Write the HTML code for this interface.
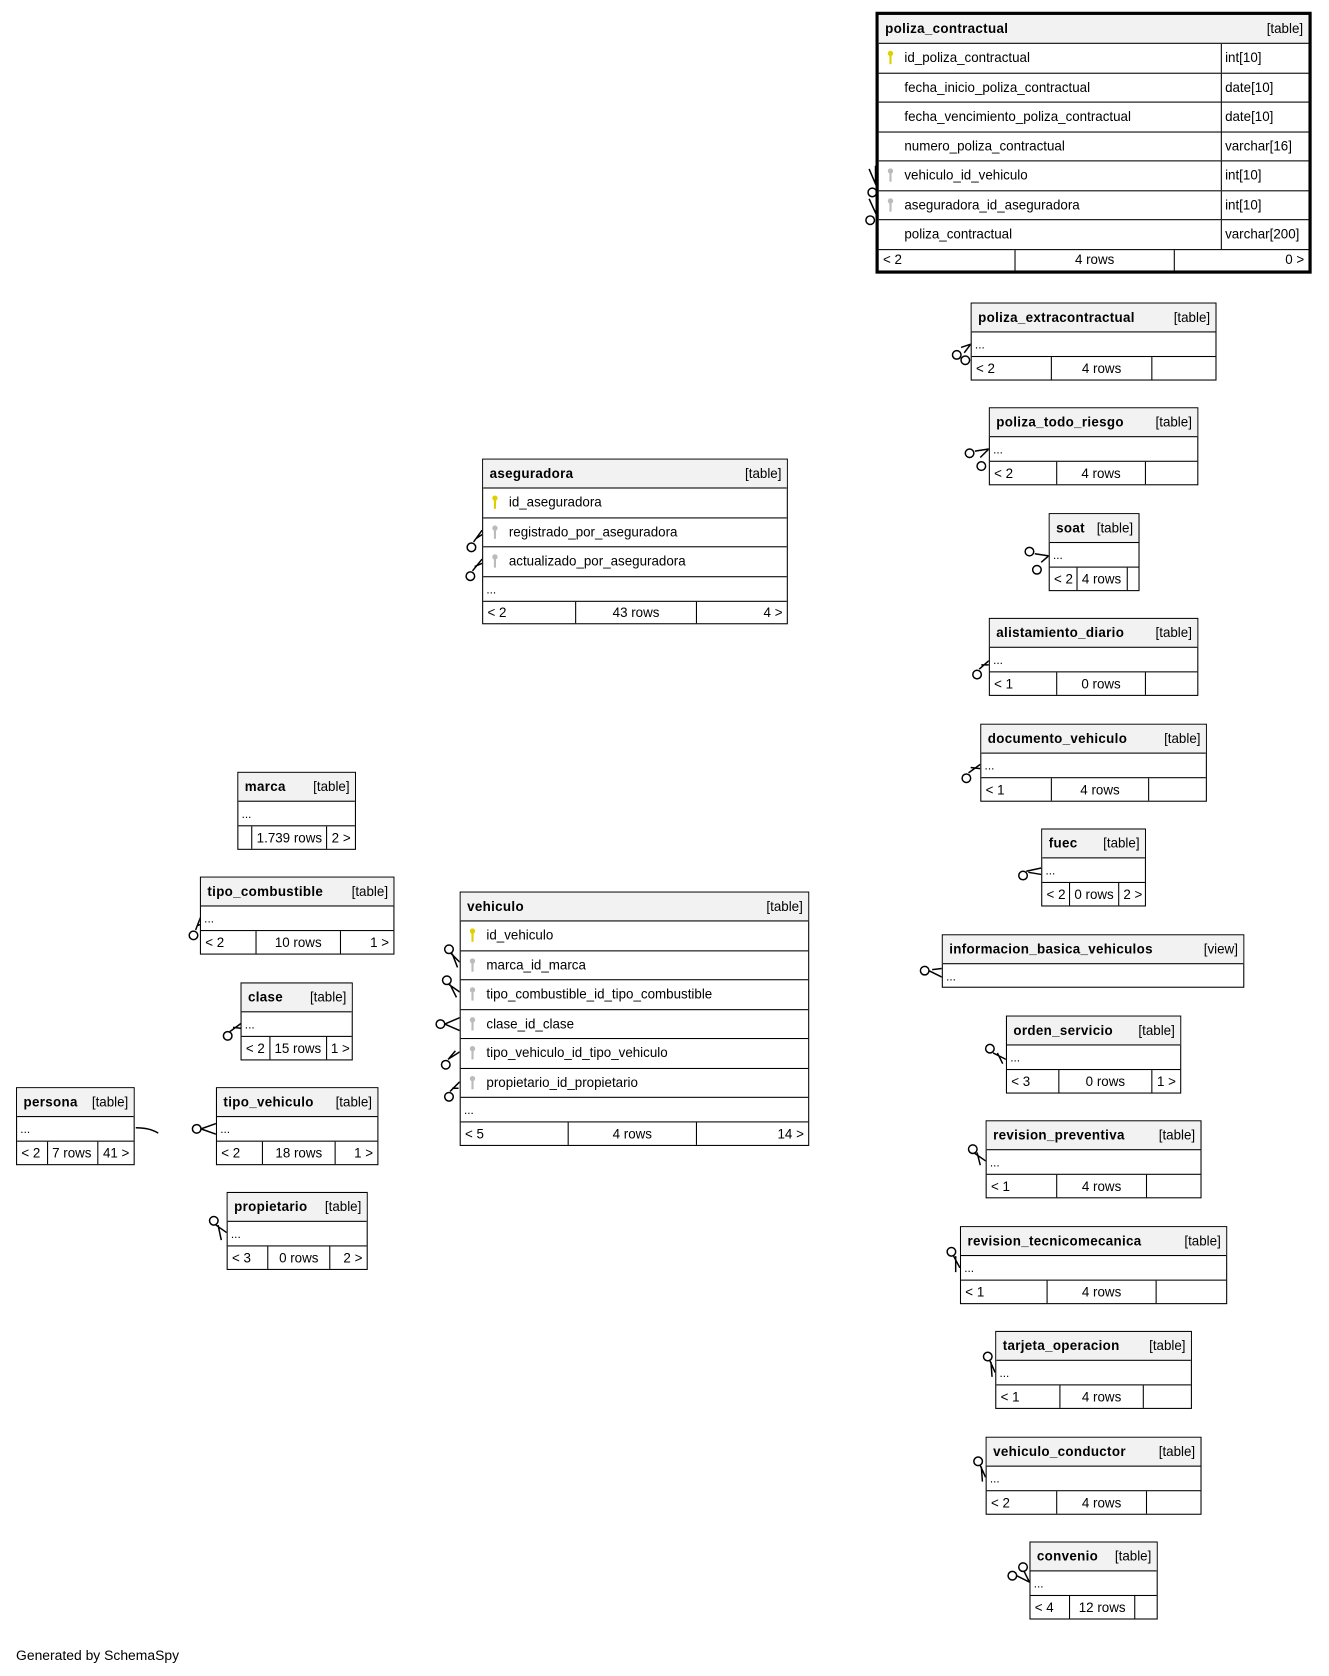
<!DOCTYPE html>
<html><head><meta charset="utf-8"><style>
html,body{margin:0;padding:0;background:#fff;width:1329px;height:1676px;overflow:hidden}
#w{position:absolute;left:0;top:0;width:1240px;height:1564px;transform:scale(1.069);transform-origin:0 0}
*{box-sizing:border-box}
.t{position:absolute;border:1px solid #000;background:#fff;font:12.5px "Liberation Sans",sans-serif;color:#000;display:flex;flex-direction:column}
.h{height:27px;flex:none;background:#f2f2f2;border-bottom:1px solid #000;display:flex;justify-content:space-between;align-items:center;padding:0 5px 0 6px;white-space:nowrap}
.h b{font-weight:bold;letter-spacing:.3px}
.r{height:27.5px;flex:none;border-bottom:1.5px solid #000;display:flex;align-items:center;white-space:nowrap}
.r .n{flex:1;padding-left:24px;position:relative;height:100%;display:flex;align-items:center}
.r .ty{width:82px;border-left:1.5px solid #000;height:100%;display:flex;align-items:center;padding-left:3px}
.d{height:23px;flex:none;border-bottom:1.5px solid #000;padding:6px 0 0 3px;font-size:11px}
.f{flex:1;display:flex;font-size:12.5px}
.f div{display:flex;align-items:center;padding:0 4px;border-left:1px solid #000;white-space:nowrap}
.f div:first-child{border-left:none}
.k{position:absolute;left:8px;top:6px;width:6px;height:14px}
svg.c{position:absolute;left:0;top:0}
</style></head><body><div id="w">

<svg class="c" width="1240" height="1564">
<g fill="none" stroke="#000" stroke-width="1.4">
<circle cx="816" cy="180" r="4"/><circle cx="814" cy="206" r="4"/>
<path d="M813 158 L819 172 L823 158 M819 172 V155"/><path d="M813 186 L819 199 L823 186"/>
<circle cx="895" cy="332" r="4"/><circle cx="903" cy="337" r="4"/><path d="M899 325 L908 322 L902 330"/>
<circle cx="907" cy="424" r="4"/><circle cx="918" cy="436" r="4"/><path d="M912 422 L925 420 L917 428"/>
<circle cx="963" cy="516" r="4"/><circle cx="970" cy="533" r="4"/><path d="M968 518 L981 520 L974 526"/>
<circle cx="914" cy="631" r="4"/><path d="M916 626 L925 618 M918 622 L925 622"/>
<circle cx="904" cy="728" r="4"/><path d="M906 723 L917 715 M908 718 L917 719"/>
<circle cx="957" cy="819" r="4"/><path d="M960 815 L974 812 M962 816 L974 818"/>
<circle cx="865" cy="908" r="4"/><path d="M869 908 L881 914 M872 907 L881 906"/>
<circle cx="926" cy="981" r="4"/><path d="M929 985 L941 991 M933 985 L938 995"/>
<circle cx="910" cy="1075" r="4"/><path d="M912 1079 L922 1086 M914 1078 L917 1090"/>
<circle cx="890" cy="1171" r="4"/><path d="M892 1175 L898 1186 M894 1175 L894 1190"/>
<circle cx="924" cy="1269" r="4"/><path d="M926 1273 L931 1284 M927 1274 L928 1288"/>
<circle cx="915" cy="1367" r="4"/><path d="M917 1371 L922 1382 M918 1372 L919 1386"/>
<circle cx="947" cy="1474" r="4"/><circle cx="957" cy="1466" r="4"/><path d="M951 1474 L963 1480 L958 1470"/>
<circle cx="441" cy="512" r="4"/><path d="M443 507 L451 496 M445 504 L451 500"/>
<circle cx="440" cy="539" r="4"/><path d="M442 534 L451 523 M444 530 L451 527"/>
<circle cx="181" cy="875" r="4"/><path d="M183 870 L188 857 M184 866 L190 864"/>
<circle cx="213" cy="969" r="4"/><path d="M215 965 L226 957 M218 961 L226 962"/>
<circle cx="184" cy="1056" r="4"/><path d="M188 1056 L202 1051 M188 1056 L202 1061"/>
<circle cx="200" cy="1142" r="4"/><path d="M202 1146 L212 1153 M204 1146 L207 1160"/>
<circle cx="420" cy="888" r="4"/><path d="M422 892 L430 900 M423 892 L428 905"/>
<circle cx="418" cy="917" r="4"/><path d="M420 921 L430 928 M421 921 L427 933"/>
<circle cx="412" cy="958" r="4"/><path d="M416 958 L430 952 M416 958 L430 964"/>
<circle cx="417" cy="996" r="4"/><path d="M419 991 L430 984 M420 990 L426 983"/>
<circle cx="420" cy="1026" r="4"/><path d="M421 1021 L430 1012 M423 1018 L429 1018"/>
<path d="M127 1055 Q140 1055 148 1060"/>
</g></svg>

<div class="t" style="left:819px;top:11px;width:408px;height:245px;border-width:3px">
<div class="h"><b>poliza_contractual</b><span>[table]</span></div>
<div class="r"><div class="n"><svg class="k" viewBox="0 0 6 14"><circle cx="3" cy="3" r="2.5" fill="#e0d000"/><rect x="2" y="4" width="2" height="9" fill="#e0d000"/></svg>id_poliza_contractual</div><div class="ty">int[10]</div></div>
<div class="r"><div class="n">fecha_inicio_poliza_contractual</div><div class="ty">date[10]</div></div>
<div class="r"><div class="n">fecha_vencimiento_poliza_contractual</div><div class="ty">date[10]</div></div>
<div class="r"><div class="n">numero_poliza_contractual</div><div class="ty">varchar[16]</div></div>
<div class="r"><div class="n"><svg class="k" viewBox="0 0 6 14"><circle cx="3" cy="3" r="2.5" fill="#bbb"/><rect x="2" y="4" width="2" height="9" fill="#bbb"/></svg>vehiculo_id_vehiculo</div><div class="ty">int[10]</div></div>
<div class="r"><div class="n"><svg class="k" viewBox="0 0 6 14"><circle cx="3" cy="3" r="2.5" fill="#bbb"/><rect x="2" y="4" width="2" height="9" fill="#bbb"/></svg>aseguradora_id_aseguradora</div><div class="ty">int[10]</div></div>
<div class="r"><div class="n">poliza_contractual</div><div class="ty">varchar[200]</div></div>
<div class="f"><div style="width:127px">&lt; 2</div><div style="width:149px;justify-content:center">4 rows</div><div style="flex:1;justify-content:flex-end">0 &gt;</div></div>
</div>

<div class="t" style="left:908px;top:283px;width:230px;height:73px"><div class="h"><b>poliza_extracontractual</b><span>[table]</span></div><div class="d">...</div><div class="f"><div style="width:74px">&lt; 2</div><div style="width:94px;justify-content:center">4 rows</div><div style="flex:1"></div></div></div>
<div class="t" style="left:925px;top:381px;width:196px;height:73px"><div class="h"><b>poliza_todo_riesgo</b><span>[table]</span></div><div class="d">...</div><div class="f"><div style="width:62px">&lt; 2</div><div style="width:83px;justify-content:center">4 rows</div><div style="flex:1"></div></div></div>
<div class="t" style="left:981px;top:480px;width:85px;height:73px"><div class="h"><b>soat</b><span>[table]</span></div><div class="d">...</div><div class="f"><div style="width:25px">&lt; 2</div><div style="width:47px">4 rows</div><div style="flex:1"></div></div></div>
<div class="t" style="left:925px;top:578px;width:196px;height:73px"><div class="h"><b>alistamiento_diario</b><span>[table]</span></div><div class="d">...</div><div class="f"><div style="width:62px">&lt; 1</div><div style="width:83px;justify-content:center">0 rows</div><div style="flex:1"></div></div></div>
<div class="t" style="left:917px;top:677px;width:212px;height:73px"><div class="h"><b>documento_vehiculo</b><span>[table]</span></div><div class="d">...</div><div class="f"><div style="width:65px">&lt; 1</div><div style="width:91px;justify-content:center">4 rows</div><div style="flex:1"></div></div></div>
<div class="t" style="left:974px;top:775px;width:98px;height:73px"><div class="h"><b>fuec</b><span>[table]</span></div><div class="d">...</div><div class="f"><div style="width:25px">&lt; 2</div><div style="width:48px">0 rows</div><div style="flex:1">2 &gt;</div></div></div>
<div class="t" style="left:881px;top:874px;width:283px;height:50px"><div class="h"><b>informacion_basica_vehiculos</b><span>[view]</span></div><div class="d" style="border:none">...</div></div>
<div class="t" style="left:941px;top:950px;width:164px;height:73px"><div class="h"><b>orden_servicio</b><span>[table]</span></div><div class="d">...</div><div class="f"><div style="width:48px">&lt; 3</div><div style="width:88px;justify-content:center">0 rows</div><div style="flex:1;justify-content:flex-end">1 &gt;</div></div></div>
<div class="t" style="left:922px;top:1048px;width:202px;height:73px"><div class="h"><b>revision_preventiva</b><span>[table]</span></div><div class="d">...</div><div class="f"><div style="width:65px">&lt; 1</div><div style="width:84px;justify-content:center">4 rows</div><div style="flex:1"></div></div></div>
<div class="t" style="left:898px;top:1147px;width:250px;height:73px"><div class="h"><b>revision_tecnicomecanica</b><span>[table]</span></div><div class="d">...</div><div class="f"><div style="width:80px">&lt; 1</div><div style="width:102px;justify-content:center">4 rows</div><div style="flex:1"></div></div></div>
<div class="t" style="left:931px;top:1245px;width:184px;height:73px"><div class="h"><b>tarjeta_operacion</b><span>[table]</span></div><div class="d">...</div><div class="f"><div style="width:59px">&lt; 1</div><div style="width:78px;justify-content:center">4 rows</div><div style="flex:1"></div></div></div>
<div class="t" style="left:922px;top:1344px;width:202px;height:73px"><div class="h"><b>vehiculo_conductor</b><span>[table]</span></div><div class="d">...</div><div class="f"><div style="width:65px">&lt; 2</div><div style="width:84px;justify-content:center">4 rows</div><div style="flex:1"></div></div></div>
<div class="t" style="left:963px;top:1442px;width:120px;height:73px"><div class="h"><b>convenio</b><span>[table]</span></div><div class="d">...</div><div class="f"><div style="width:36px">&lt; 4</div><div style="width:61px;justify-content:center">12 rows</div><div style="flex:1"></div></div></div>

<div class="t" style="left:451px;top:429px;width:286px;height:155px">
<div class="h"><b>aseguradora</b><span>[table]</span></div>
<div class="r"><div class="n"><svg class="k" viewBox="0 0 6 14"><circle cx="3" cy="3" r="2.5" fill="#e0d000"/><rect x="2" y="4" width="2" height="9" fill="#e0d000"/></svg>id_aseguradora</div></div>
<div class="r"><div class="n"><svg class="k" viewBox="0 0 6 14"><circle cx="3" cy="3" r="2.5" fill="#bbb"/><rect x="2" y="4" width="2" height="9" fill="#bbb"/></svg>registrado_por_aseguradora</div></div>
<div class="r"><div class="n"><svg class="k" viewBox="0 0 6 14"><circle cx="3" cy="3" r="2.5" fill="#bbb"/><rect x="2" y="4" width="2" height="9" fill="#bbb"/></svg>actualizado_por_aseguradora</div></div>
<div class="d">...</div>
<div class="f"><div style="width:86px">&lt; 2</div><div style="width:113px;justify-content:center">43 rows</div><div style="flex:1;justify-content:flex-end">4 &gt;</div></div>
</div>

<div class="t" style="left:430px;top:834px;width:327px;height:238px">
<div class="h"><b>vehiculo</b><span>[table]</span></div>
<div class="r"><div class="n"><svg class="k" viewBox="0 0 6 14"><circle cx="3" cy="3" r="2.5" fill="#e0d000"/><rect x="2" y="4" width="2" height="9" fill="#e0d000"/></svg>id_vehiculo</div></div>
<div class="r"><div class="n"><svg class="k" viewBox="0 0 6 14"><circle cx="3" cy="3" r="2.5" fill="#bbb"/><rect x="2" y="4" width="2" height="9" fill="#bbb"/></svg>marca_id_marca</div></div>
<div class="r"><div class="n"><svg class="k" viewBox="0 0 6 14"><circle cx="3" cy="3" r="2.5" fill="#bbb"/><rect x="2" y="4" width="2" height="9" fill="#bbb"/></svg>tipo_combustible_id_tipo_combustible</div></div>
<div class="r"><div class="n"><svg class="k" viewBox="0 0 6 14"><circle cx="3" cy="3" r="2.5" fill="#bbb"/><rect x="2" y="4" width="2" height="9" fill="#bbb"/></svg>clase_id_clase</div></div>
<div class="r"><div class="n"><svg class="k" viewBox="0 0 6 14"><circle cx="3" cy="3" r="2.5" fill="#bbb"/><rect x="2" y="4" width="2" height="9" fill="#bbb"/></svg>tipo_vehiculo_id_tipo_vehiculo</div></div>
<div class="r"><div class="n"><svg class="k" viewBox="0 0 6 14"><circle cx="3" cy="3" r="2.5" fill="#bbb"/><rect x="2" y="4" width="2" height="9" fill="#bbb"/></svg>propietario_id_propietario</div></div>
<div class="d">...</div>
<div class="f"><div style="width:100px">&lt; 5</div><div style="width:120px;justify-content:center">4 rows</div><div style="flex:1;justify-content:flex-end">14 &gt;</div></div>
</div>

<div class="t" style="left:222px;top:722px;width:111px;height:73px"><div class="h"><b>marca</b><span>[table]</span></div><div class="d">...</div><div class="f"><div style="width:14px"></div><div style="width:72px">1.739 rows</div><div style="flex:1">2 &gt;</div></div></div>
<div class="t" style="left:187px;top:820px;width:182px;height:73px"><div class="h"><b>tipo_combustible</b><span>[table]</span></div><div class="d">...</div><div class="f"><div style="width:51px">&lt; 2</div><div style="width:79px;justify-content:center">10 rows</div><div style="flex:1;justify-content:flex-end">1 &gt;</div></div></div>
<div class="t" style="left:225px;top:919px;width:105px;height:73px"><div class="h"><b>clase</b><span>[table]</span></div><div class="d">...</div><div class="f"><div style="width:26px">&lt; 2</div><div style="width:55px">15 rows</div><div style="flex:1">1 &gt;</div></div></div>
<div class="t" style="left:15px;top:1017px;width:111px;height:73px"><div class="h"><b>persona</b><span>[table]</span></div><div class="d">...</div><div class="f"><div style="width:28px">&lt; 2</div><div style="width:48px">7 rows</div><div style="flex:1">41 &gt;</div></div></div>
<div class="t" style="left:202px;top:1017px;width:152px;height:73px"><div class="h"><b>tipo_vehiculo</b><span>[table]</span></div><div class="d">...</div><div class="f"><div style="width:42px">&lt; 2</div><div style="width:68px;justify-content:center">18 rows</div><div style="flex:1;justify-content:flex-end">1 &gt;</div></div></div>
<div class="t" style="left:212px;top:1115px;width:132px;height:73px"><div class="h"><b>propietario</b><span>[table]</span></div><div class="d">...</div><div class="f"><div style="width:37px">&lt; 3</div><div style="width:58px;justify-content:center">0 rows</div><div style="flex:1;justify-content:flex-end">2 &gt;</div></div></div>

<div style="position:absolute;left:15px;top:1541px;font:13px 'Liberation Sans',sans-serif">Generated by SchemaSpy</div>
</div></body></html>
